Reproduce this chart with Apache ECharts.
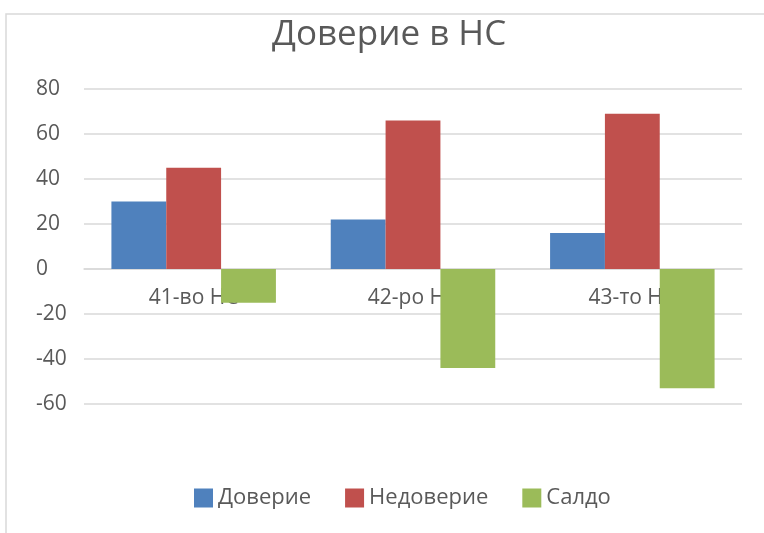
<!DOCTYPE html>
<html><head><meta charset="utf-8">
<script src="https://cdn.jsdelivr.net/npm/echarts@6/dist/echarts.min.js"></script>
<style>html,body{margin:0;padding:0;background:#fff}#c{width:764px;height:533px}</style>
</head><body><div id="c"></div>
<script>
const categories = ["41-во НС", "42-ро НС", "43-то НС"];
const trust = [30, 22, 16];
const distrust = [45, 66, 69];
const balance = [-15, -44, -53];
const seriesNames = ["Доверие", "Недоверие", "Салдо"];
const yTicks = {min: -60, max: 80, interval: 20};

const FONT = '"Open Sans", "Noto Sans", sans-serif';
const chart = echarts.init(document.getElementById('c'));
chart.setOption({
  animation: false,
  backgroundColor: '#fff',
  graphic: [{type: 'rect', shape: {x: 6, y: 14, width: 800, height: 600},
    style: {fill: 'none', stroke: '#d9d9d9', lineWidth: 1.5}, z: -1}],
  title: {text: 'Доверие в НС', left: 267, top: 13,
    textStyle: {fontFamily: FONT, fontSize: 35, fontWeight: 'normal', color: '#595959'}},
  legend: {bottom: 19, left: 189, itemWidth: 19, itemHeight: 19, itemGap: 34,
    icon: 'rect',
    textStyle: {fontFamily: FONT, fontSize: 22, color: '#595959'},
    data: seriesNames},
  grid: {left: 84, right: 22, top: 89, bottom: 129, containLabel: false},
  xAxis: {type: 'category', data: categories, offset: -135,
    axisLine: {onZero: false, lineStyle: {color: '#d9d9d9', width: 1.5}},
    axisTick: {show: false},
    axisLabel: {fontFamily: FONT, fontSize: 21, color: '#595959', margin: 19}},
  yAxis: {type: 'value', min: yTicks.min, max: yTicks.max, interval: yTicks.interval,
    axisLine: {show: false}, axisTick: {show: false},
    splitLine: {lineStyle: {color: '#d9d9d9', width: 1.5}},
    axisLabel: {fontFamily: FONT, fontSize: 21, color: '#595959', align: 'left', margin: 48}},
  series: [
    {name: seriesNames[0], type: 'bar', data: trust, barGap: '0%', barCategoryGap: '25%',
      itemStyle: {color: '#4F81BD'}},
    {name: seriesNames[1], type: 'bar', data: distrust, barGap: '0%', barCategoryGap: '25%',
      itemStyle: {color: '#C0504D'}},
    {name: seriesNames[2], type: 'bar', data: balance, barGap: '0%', barCategoryGap: '25%',
      itemStyle: {color: '#9BBB59'}}
  ]
});
</script></body></html>
